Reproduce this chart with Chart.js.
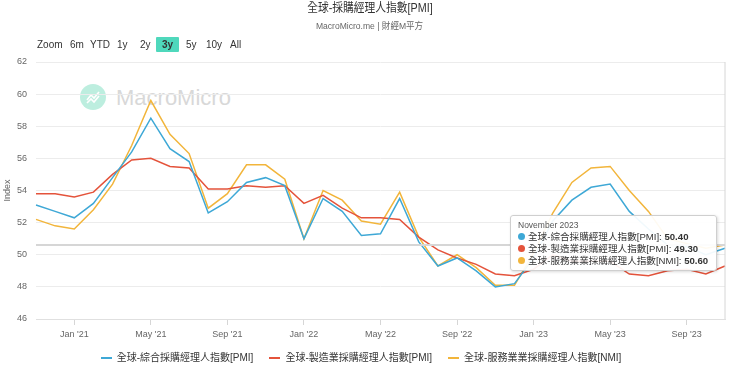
<!DOCTYPE html>
<html>
<head>
<meta charset="utf-8">
<script src="https://cdn.jsdelivr.net/npm/chart.js@4.4.0/dist/chart.umd.min.js"></script>
<style>
  body { margin: 0; background: #fff; font-family: "Liberation Sans", Arial, "Noto Sans CJK TC", sans-serif; }
  .wrap { position: relative; width: 740px; height: 374px; overflow: hidden; }
  .title { position: absolute; top: 0; left: 0; width: 740px; text-align: center; font-size: 12.5px; color: #333; line-height: 17px; }
  .title span { display: inline-block; transform: scaleX(0.86); }
  .sub { position: absolute; top: 18px; left: 0; width: 740px; text-align: center; font-size: 9.5px; color: #666; }
  .sub span { display: inline-block; transform: scaleX(0.9); }
  .btn { position: absolute; top: 37px; font-size: 10px; color: #333; line-height: 15px; }
  .btn.on { background: #4fd8bc; padding: 0 6px; font-weight: bold; border-radius: 1px; }
  .mark { position: absolute; left: 80px; top: 84px; }
  .mark .dot { position: absolute; left: 0; top: 0; width: 26px; height: 26px; border-radius: 50%; background: #bdeedf; }
  .mark .txt { position: absolute; left: 36px; top: 1px; font-size: 22px; color: #d8d8d8; white-space: nowrap; }
  canvas { position: absolute; left: 0; top: 0; }
  #legend { position: absolute; left: 0; top: 351px; width: 722px; display: flex; justify-content: center; font-size: 10px; color: #333; line-height: 14px; }
  #legend .item { display: flex; align-items: center; margin: 0 8px; }
  #legend .sw { width: 11px; height: 2px; margin-right: 5px; }
  #tip { position: absolute; background: rgba(255,255,255,0.93); border: 1px solid #cfcfcf; border-radius: 3px;
         box-shadow: 1px 1px 3px rgba(0,0,0,0.15); padding: 4px 8px 3px 7px; font-size: 9.6px; color: #333; white-space: nowrap; }
  #tip .hd { font-size: 8.5px; color: #555; line-height: 11px; }
  #tip .row { line-height: 12px; }
  #tip i { display: inline-block; width: 7px; height: 7px; border-radius: 50%; margin-right: 3px; }
</style>
</head>
<body>
<div class="wrap">
  <div class="mark">
    <div class="dot">
      <svg width="26" height="26" viewBox="0 0 26 26"><polyline points="7,16 11,11 14,14 19,8" fill="none" stroke="#fff" stroke-width="1.6"/><polyline points="7,19 11,15 14,18 19,12" fill="none" stroke="#fff" stroke-width="1.6"/></svg>
    </div>
    <div class="txt">MacroMicro</div>
  </div>
  <canvas id="myChart" width="740" height="374"></canvas>
  <div class="title"><span>全球-採購經理人指數[PMI]</span></div>
  <div class="sub"><span>MacroMicro.me | 財經M平方</span></div>
  <span class="btn" style="left:37px">Zoom</span>
  <span class="btn" style="left:70px">6m</span>
  <span class="btn" style="left:90px">YTD</span>
  <span class="btn" style="left:117px">1y</span>
  <span class="btn" style="left:140px">2y</span>
  <span class="btn on" style="left:156px">3y</span>
  <span class="btn" style="left:186px">5y</span>
  <span class="btn" style="left:206px">10y</span>
  <span class="btn" style="left:230px">All</span>
  <div id="legend"></div>
  <div id="tip" style="opacity:0"></div>
</div>
<script>
const months = [
  '2020-11','2020-12',
  '2021-01','2021-02','2021-03','2021-04','2021-05','2021-06','2021-07','2021-08','2021-09','2021-10','2021-11','2021-12',
  '2022-01','2022-02','2022-03','2022-04','2022-05','2022-06','2022-07','2022-08','2022-09','2022-10','2022-11','2022-12',
  '2023-01','2023-02','2023-03','2023-04','2023-05','2023-06','2023-07','2023-08','2023-09','2023-10','2023-11'
];
const composite = [
  53.1, 52.7,
  52.3, 53.2, 54.8, 56.4, 58.5, 56.6, 55.8, 52.6, 53.3, 54.5, 54.8, 54.3,
  51.0, 53.5, 52.7, 51.2, 51.3, 53.5, 50.8, 49.3, 49.8, 49.0, 48.0, 48.2,
  49.8, 52.1, 53.4, 54.2, 54.4, 52.7, 51.6, 50.6, 50.5, 50.0, 50.4
];
const manufacturing = [
  53.8, 53.8,
  53.6, 53.9, 55.0, 55.9, 56.0, 55.5, 55.4, 54.1, 54.1, 54.3, 54.2, 54.3,
  53.2, 53.7, 52.9, 52.3, 52.3, 52.2, 51.1, 50.3, 49.8, 49.4, 48.8, 48.7,
  49.1, 50.0, 49.6, 49.6, 49.6, 48.8, 48.7, 49.0, 49.1, 48.8, 49.3
];
const services = [
  52.2, 51.8,
  51.6, 52.8, 54.4, 56.8, 59.6, 57.5, 56.3, 52.9, 53.8, 55.6, 55.6, 54.7,
  51.0, 54.0, 53.4, 52.1, 51.9, 53.9, 51.1, 49.3, 50.0, 49.2, 48.1, 48.1,
  50.1, 52.6, 54.5, 55.4, 55.5, 54.0, 52.7, 51.0, 50.7, 50.4, 50.6
];
const seriesNames = ['全球-綜合採購經理人指數[PMI]', '全球-製造業採購經理人指數[PMI]', '全球-服務業業採購經理人指數[NMI]'];
const seriesColors = ['#3ea8d6', '#e4533b', '#f2b53b'];
const yTicks = [46, 48, 50, 52, 54, 56, 58, 60, 62];
const tickMonths = ['01', '05', '09'];
const monthShort = ['Jan','Feb','Mar','Apr','May','Jun','Jul','Aug','Sep','Oct','Nov','Dec'];
const monthLong = ['January','February','March','April','May','June','July','August','September','October','November','December'];

const FONT = '"Liberation Sans", Arial, "Noto Sans CJK TC", sans-serif';

function fmtTick(m) {
  const p = m.split('-');
  return monthShort[+p[1] - 1] + " '" + p[0].slice(2);
}

// crosshair lines on the hovered point
const crosshair = {
  id: 'crosshair',
  afterDatasetsDraw(chart) {
    const act = chart.tooltip.getActiveElements();
    if (!act.length) return;
    const ctx = chart.ctx, a = chart.chartArea;
    const idx = act[0].index;
    const x = chart.scales.x.getPixelForValue(idx);
    const y = chart.scales.y.getPixelForValue(services[idx]);
    ctx.save();
    ctx.strokeStyle = '#d6d6d6';
    ctx.lineWidth = 1;
    ctx.beginPath(); ctx.moveTo(x, a.top); ctx.lineTo(x, a.bottom); ctx.stroke();
    ctx.lineWidth = 2;
    ctx.beginPath(); ctx.moveTo(a.left, y); ctx.lineTo(a.right, y); ctx.stroke();
    ctx.restore();
  }
};

function externalTip(context) {
  const { chart, tooltip } = context;
  const el = document.getElementById('tip');
  if (tooltip.opacity === 0) { el.style.opacity = 0; return; }
  const idx = tooltip.dataPoints[0].dataIndex;
  const p = months[idx].split('-');
  let html = '<div class="hd">' + monthLong[+p[1] - 1] + ' ' + p[0] + '</div>';
  tooltip.dataPoints.forEach(function (dp) {
    html += '<div class="row"><i style="background:' + seriesColors[dp.datasetIndex] + '"></i>' +
      dp.dataset.label + ': <b>' + dp.parsed.y.toFixed(2) + '</b></div>';
  });
  el.innerHTML = html;
  el.style.opacity = 1;
  el.style.left = (tooltip.caretX - 8 - el.offsetWidth) + 'px';
  el.style.top = (tooltip.caretY - 38) + 'px';
}

const ctx = document.getElementById('myChart');
const chart = new Chart(ctx, {
  type: 'line',
  data: {
    labels: months,
    datasets: [composite, manufacturing, services].map(function (d, i) {
      return {
        label: seriesNames[i],
        data: d,
        borderColor: seriesColors[i],
        backgroundColor: seriesColors[i],
        borderWidth: 1.5,
        pointRadius: 0,
        pointHoverRadius: 0,
        tension: 0
      };
    })
  },
  options: {
    responsive: false,
    animation: false,
    events: [],
    layout: { padding: { top: 62, right: 15, left: 0, bottom: 35 } },
    interaction: { mode: 'index', intersect: false },
    scales: {
      x: {
        offset: false,
        afterBuildTicks(scale) {
          scale.ticks = scale.ticks.filter(t => tickMonths.includes(months[t.value].split('-')[1]));
        },
        afterFit(scale) { scale.height = 20; },
        ticks: {
          autoSkip: false, maxRotation: 0, color: '#666', padding: 4,
          font: { family: FONT, size: 9 },
          callback: function (v) { return fmtTick(months[v]); }
        },
        grid: { drawOnChartArea: false, drawTicks: true, tickLength: 6, color: '#d6d6d6' },
        border: { color: '#e0e0e0' }
      },
      y: {
        min: 46, max: 62,
        afterBuildTicks(scale) { scale.ticks = yTicks.map(v => ({ value: v })); },
        afterFit(scale) { scale.width = 36; },
        ticks: { color: '#666', padding: 9, font: { family: FONT, size: 9 } },
        grid: { color: '#ececec', drawTicks: false },
        border: { display: false },
        title: { display: true, text: 'Index', color: '#666', font: { family: FONT, size: 9 }, padding: { top: 2, bottom: 0 } }
      }
    },
    plugins: {
      legend: { display: false },
      tooltip: { enabled: false, external: externalTip, position: 'average' }
    }
  },
  plugins: [crosshair]
});

// legend built from the chart's datasets
const legendEl = document.getElementById('legend');
chart.data.datasets.forEach(function (ds) {
  const item = document.createElement('div');
  item.className = 'item';
  item.innerHTML = '<span class="sw" style="background:' + ds.borderColor + '"></span><span>' + ds.label + '</span>';
  legendEl.appendChild(item);
});

const last = months.length - 1;
chart.tooltip.setActiveElements(
  [0, 1, 2].map(i => ({ datasetIndex: i, index: last })),
  { x: chart.scales.x.getPixelForValue(last), y: chart.scales.y.getPixelForValue(services[last]) }
);
chart.update();
</script>
</body>
</html>
